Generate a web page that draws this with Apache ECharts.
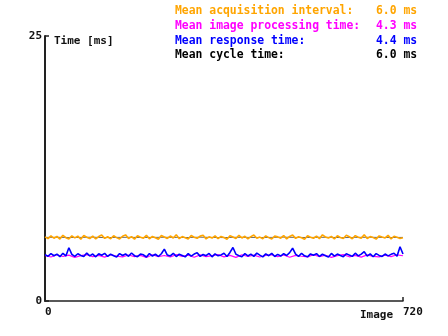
<!DOCTYPE html>
<html><head><meta charset="utf-8">
<script src="https://cdn.jsdelivr.net/npm/echarts@6/dist/echarts.min.js"></script>
<style>html,body{margin:0;padding:0;background:#fff}#c{width:448px;height:336px}</style>
</head><body><div id="c"></div>
<script>
const xMax = 720;
const yMax = 25;
const legendLabels = ["Mean acquisition interval:", "Mean image processing time:", "Mean response time:", "Mean cycle time:"];
const legendValues = ["6.0 ms", "4.3 ms", "4.4 ms", "6.0 ms"];
const seriesColors = ["#FFA500", "#FF00FF", "#0000FF", "#000000"];

const acquisition = [6.05,5.88,6.15,5.92,6.10,5.84,6.20,5.97,5.86,6.14,
5.95,6.12,5.83,6.18,6.02,5.89,6.13,5.85,6.08,6.22,
5.91,6.06,5.87,6.16,5.98,5.85,6.11,6.24,5.90,6.07,
5.84,6.15,6.01,5.93,6.19,5.87,6.09,5.96,5.82,6.17,
6.04,5.90,6.13,5.94,6.25,5.88,6.08,5.97,5.85,6.18,
6.02,5.91,6.12,6.21,5.86,6.05,5.94,6.15,5.89,6.09,
5.99,5.83,6.16,6.04,5.90,6.20,5.95,6.11,5.87,6.07,
6.23,5.92,6.03,5.88,6.14,5.98,5.85,6.12,6.05,5.93,
6.18,5.86,6.09,6.22,5.91,6.06,5.97,5.83,6.16,6.02,
5.92,6.13,5.88,6.24,6.04,5.94,6.10,5.85,6.15,5.99,
5.90,6.20,6.06,5.87,6.17,6.02,5.93,6.25,5.89,6.08,
5.98,5.84,6.14,6.04,5.95,6.19,5.86,6.11,6.01,5.90,
5.96];

const response = [4.38,4.22,4.47,4.27,4.42,4.18,4.50,4.25,5.02,4.40,
4.21,4.46,4.30,4.19,4.52,4.26,4.43,4.17,4.45,4.32,
4.49,4.20,4.41,4.27,4.16,4.47,4.29,4.44,4.22,4.53,
4.28,4.18,4.43,4.36,4.15,4.48,4.24,4.41,4.20,4.46,
4.90,4.33,4.25,4.50,4.19,4.42,4.30,4.16,4.47,4.24,
4.43,4.55,4.21,4.39,4.27,4.49,4.17,4.44,4.26,4.35,
4.51,4.20,4.58,5.05,4.41,4.28,4.18,4.47,4.25,4.42,
4.21,4.52,4.33,4.16,4.45,4.27,4.49,4.20,4.40,4.24,
4.46,4.29,4.56,4.98,4.42,4.21,4.50,4.26,4.17,4.44,
4.32,4.47,4.20,4.41,4.27,4.15,4.49,4.24,4.43,4.29,
4.18,4.46,4.33,4.21,4.51,4.26,4.42,4.65,4.23,4.45,
4.17,4.47,4.30,4.20,4.43,4.26,4.40,4.50,4.22,5.12,
4.44];

const processing = [4.30,4.15,4.36,4.20,4.33,4.12,4.28,4.38,4.18,4.31,
4.14,4.37,4.22,4.16,4.34,4.19,4.30,4.11,4.36,4.18,
4.29,4.15,4.38,4.21,4.32,4.13,4.35,4.19,4.28,4.37,
4.16,4.31,4.12,4.36,4.20,4.33,4.15,4.29,4.38,4.18,
4.34,4.13,4.30,4.22,4.16,4.36,4.19,4.32,4.12,4.28,
4.37,4.17,4.31,4.14,4.35,4.21,4.16,4.33,4.19,4.36,
4.27];

const cycle = [6.00,6.01,5.99,6.00,6.02,5.98,6.00,6.01,5.99,6.00,
6.01,6.00,5.99,6.02,6.00,5.98,6.01,6.00,5.99,6.00,
6.02,6.00,5.99,6.01,6.00,5.98,6.00,6.01,6.00,5.99,
6.00];

function pairs(arr){ const n = arr.length; return arr.map((v,i)=>[i*xMax/(n-1), v]); }

const FONT = "'DejaVu Sans Mono', monospace";
const chart = echarts.init(document.getElementById('c'), null, {renderer:'canvas'});
const legendGraphics = [];
legendLabels.forEach((t,i)=>{
  legendGraphics.push({type:'text', left:175, top:6+i*14.6, style:{text:t, fill:seriesColors[i], font:"bold 11.4px "+FONT}});
  legendGraphics.push({type:'text', left:376, top:6+i*14.6, style:{text:legendValues[i], fill:seriesColors[i], font:"bold 11.4px "+FONT}});
});
legendGraphics.push({type:'text', left:54, top:36, style:{text:'Time [ms]', fill:'#111', font:"bold 11px "+FONT}});
legendGraphics.push({type:'text', left:360, top:310, style:{text:'Image', fill:'#111', font:"bold 11px "+FONT}});

chart.setOption({
  animation:false,
  grid:{left:45, right:45, top:36, bottom:35, containLabel:false},
  xAxis:{type:'value', min:0, max:xMax, interval:xMax,
    axisLine:{lineStyle:{color:'#222', width:1.5}},
    axisTick:{inside:true, length:4, lineStyle:{color:'#222', width:1.5}},
    splitLine:{show:false},
    axisLabel:{align:'left', margin:6, color:'#111', fontWeight:'bold', fontFamily:FONT, fontSize:11}},
  yAxis:{type:'value', min:0, max:yMax, interval:yMax,
    axisLine:{show:true, lineStyle:{color:'#222', width:2}},
    axisTick:{show:true, inside:true, length:4, lineStyle:{color:'#222', width:1.5}},
    splitLine:{show:false},
    axisLabel:{margin:3, color:'#111', fontWeight:'bold', fontFamily:FONT, fontSize:11}},
  graphic: legendGraphics,
  series:[
    {type:'line', data:pairs(cycle), symbol:'none', lineStyle:{color:seriesColors[3], width:0.6}, z:1},
    {type:'line', data:pairs(acquisition), symbol:'none', lineStyle:{color:seriesColors[0], width:1.6}, z:2},
    {type:'line', data:pairs(processing), symbol:'none', lineStyle:{color:seriesColors[1], width:1.2}, z:3},
    {type:'line', data:pairs(response), symbol:'none', lineStyle:{color:seriesColors[2], width:1.6}, z:4}
  ]
});
</script></body></html>
